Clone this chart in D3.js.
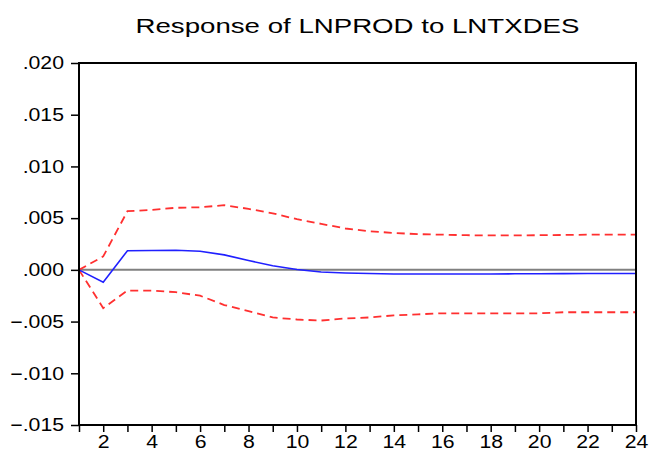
<!DOCTYPE html>
<html>
<head>
<meta charset="utf-8">
<script src="https://cdn.jsdelivr.net/npm/d3@7"></script>
<style>
  html, body { margin: 0; padding: 0; background: #fff; }
  svg { display: block; font-family: "Liberation Sans", Arial, sans-serif; }
</style>
</head>
<body>
<svg id="chart" width="650" height="455"></svg>
<script>
const title = "Response of LNPROD to LNTXDES";
const periods = [1,2,3,4,5,6,7,8,9,10,11,12,13,14,15,16,17,18,19,20,21,22,23,24];
const response = [0, -0.0012, 0.00185, 0.00187, 0.0019, 0.0018, 0.00145, 0.0009, 0.0004, 0.00003, -0.0002, -0.0003, -0.00035, -0.0004, -0.0004, -0.0004, -0.0004, -0.0004, -0.00038, -0.00037, -0.00036, -0.00035, -0.00035, -0.00035];
const upper = [0, 0.0013, 0.00567, 0.0058, 0.006, 0.00605, 0.00625, 0.0059, 0.00547, 0.0049, 0.00445, 0.004, 0.00373, 0.00357, 0.00345, 0.0034, 0.00335, 0.00333, 0.00333, 0.00335, 0.00337, 0.0034, 0.0034, 0.0034];
const lower = [0, -0.0037, -0.002, -0.002, -0.00216, -0.0025, -0.0034, -0.004, -0.0046, -0.0048, -0.0049, -0.0047, -0.0046, -0.0044, -0.0043, -0.0042, -0.0042, -0.0042, -0.0042, -0.0042, -0.0041, -0.0041, -0.0041, -0.0041];
const yTicks = [0.02, 0.015, 0.01, 0.005, 0, -0.005, -0.01, -0.015];
const xLabelTicks = [2,4,6,8,10,12,14,16,18,20,22,24];

const svg = d3.select("#chart");
const L = 79, R = 636, T = 63, B = 425;
const stretch = 1.18;

const x = d3.scaleLinear().domain([1, 24]).range([L, R]);
const y = d3.scaleLinear().domain([-0.015, 0.02]).range([B, T]);

function fmt(v) {
  let s = d3.format(".3f")(Math.abs(v) < 1e-12 ? 0 : v);
  return s.replace("0.", ".");
}
function stretchText(sel, f) {
  sel.each(function() {
    const w = this.getComputedTextLength();
    d3.select(this).attr("textLength", w * f).attr("lengthAdjust", "spacingAndGlyphs");
  });
}

// zero line
svg.append("line")
  .attr("x1", x(1)).attr("x2", x(24))
  .attr("y1", y(0)).attr("y2", y(0))
  .attr("stroke", "#808080").attr("stroke-width", 2);

const line = d3.line().x((d, i) => x(periods[i])).y(d => y(d));

svg.append("path").datum(upper).attr("d", line)
  .attr("fill", "none").attr("stroke", "#ff3030").attr("stroke-width", 1.8)
  .attr("stroke-dasharray", "8,5");
svg.append("path").datum(lower).attr("d", line)
  .attr("fill", "none").attr("stroke", "#ff3030").attr("stroke-width", 1.8)
  .attr("stroke-dasharray", "8,5");
svg.append("path").datum(response).attr("d", line)
  .attr("fill", "none").attr("stroke", "#2020ff").attr("stroke-width", 1.6);

// frame
svg.append("rect").attr("x", L).attr("y", T).attr("width", R - L).attr("height", B - T)
  .attr("fill", "none").attr("stroke", "#000").attr("stroke-width", 2);

// y axis
const yAxis = d3.axisLeft(y).tickValues(yTicks).tickFormat(fmt).tickSize(8).tickPadding(7);
const gy = svg.append("g").attr("transform", `translate(${L},0)`).call(yAxis);
gy.select(".domain").remove();
gy.selectAll(".tick line").attr("stroke", "#000").attr("stroke-width", 1.5);
gy.selectAll(".tick text").attr("font-size", 18).attr("fill", "#000")
  .attr("font-family", "'Liberation Sans', Arial, sans-serif");
stretchText(gy.selectAll(".tick text"), stretch);

// x axis
const xAxis = d3.axisBottom(x).tickValues(periods)
  .tickFormat(d => xLabelTicks.includes(d) ? String(d) : "")
  .tickSize(7).tickPadding(3);
const gx = svg.append("g").attr("transform", `translate(0,${B})`).call(xAxis);
gx.select(".domain").remove();
gx.selectAll(".tick line").attr("stroke", "#000").attr("stroke-width", 1.5);
gx.selectAll(".tick text").attr("font-size", 18).attr("fill", "#000")
  .attr("font-family", "'Liberation Sans', Arial, sans-serif");
stretchText(gx.selectAll(".tick text").filter(function(){ return this.textContent !== ""; }), stretch);

// title
const t = svg.append("text")
  .attr("x", (L + R) / 2).attr("y", 33)
  .attr("text-anchor", "middle")
  .attr("font-size", 21).attr("fill", "#000")
  .text(title);
t.attr("textLength", 444).attr("lengthAdjust", "spacingAndGlyphs");
</script>
</body>
</html>
